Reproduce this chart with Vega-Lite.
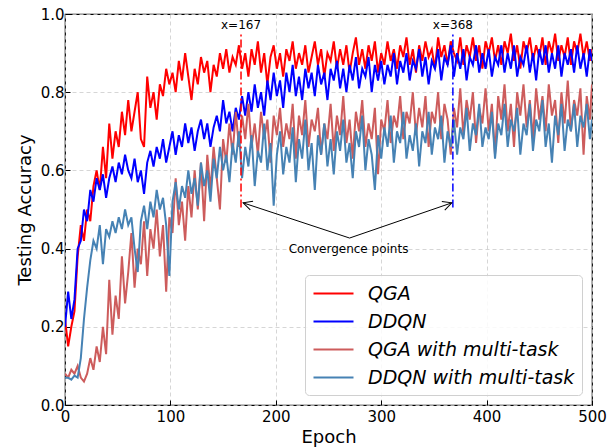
{
  "$schema": "https://vega.github.io/schema/vega-lite/v6.json",
  "width": 527,
  "height": 391,
  "autosize": {"type": "none"},
  "padding": {"left": 65, "top": 14, "right": 21, "bottom": 42},
  "background": "white",
  "config": {
    "font": "DejaVu Sans",
    "view": {"stroke": "black", "strokeWidth": 1.2},
    "axis": {
      "grid": true, "gridDash": [4, 3], "gridColor": "#cccccc", "gridWidth": 0.8,
      "domain": false, "ticks": true, "tickSize": -5, "tickColor": "black", "tickWidth": 1,
      "labelFont": "DejaVu Sans", "labelFontSize": 15, "labelColor": "black",
      "titleFont": "DejaVu Sans", "titleFontSize": 18, "titleFontWeight": "normal", "titleColor": "black",
      "labelFlush": false, "labelOverlap": false
    },
    "legend": {
      "orient": "none", "legendX": 240, "legendY": 261,
      "symbolType": "M -1 0 L 3 0", "symbolSize": 400, "symbolStrokeWidth": 2.2,
      "labelFont": "DejaVu Sans", "labelFontSize": 19, "labelFontStyle": "italic", "labelColor": "black",
      "labelOffset": 33, "padding": 7, "strokeColor": "#d0d0d0", "fillColor": "rgba(255,255,255,0.85)",
      "cornerRadius": 4, "rowPadding": 6, "labelLimit": 400
    }
  },
  "data": {"values": [
{"e":0,"q":0.22,"d":0.20,"qm":0.08,"dm":0.07},
{"e":3,"q":0.15,"d":0.29,"qm":0.07,"dm":0.07},
{"e":6,"q":0.20,"d":0.22,"qm":0.09,"dm":0.065},
{"e":9,"q":0.24,"d":0.27,"qm":0.08,"dm":0.075},
{"e":12,"q":0.38,"d":0.40,"qm":0.10,"dm":0.07},
{"e":15,"q":0.46,"d":0.42,"qm":0.07,"dm":0.12},
{"e":18,"q":0.42,"d":0.50,"qm":0.06,"dm":0.22},
{"e":21,"q":0.50,"d":0.47,"qm":0.08,"dm":0.30},
{"e":24,"q":0.47,"d":0.55,"qm":0.12,"dm":0.37},
{"e":27,"q":0.56,"d":0.52,"qm":0.09,"dm":0.42},
{"e":30,"q":0.60,"d":0.58,"qm":0.15,"dm":0.40},
{"e":33,"q":0.55,"d":0.55,"qm":0.11,"dm":0.46},
{"e":36,"q":0.66,"d":0.59,"qm":0.20,"dm":0.36},
{"e":39,"q":0.58,"d":0.53,"qm":0.13,"dm":0.45},
{"e":42,"q":0.72,"d":0.58,"qm":0.32,"dm":0.43},
{"e":45,"q":0.63,"d":0.61,"qm":0.18,"dm":0.47},
{"e":48,"q":0.70,"d":0.57,"qm":0.28,"dm":0.44},
{"e":51,"q":0.66,"d":0.62,"qm":0.22,"dm":0.48},
{"e":54,"q":0.75,"d":0.59,"qm":0.38,"dm":0.45},
{"e":57,"q":0.69,"d":0.64,"qm":0.26,"dm":0.50},
{"e":60,"q":0.78,"d":0.60,"qm":0.34,"dm":0.46},
{"e":63,"q":0.70,"d":0.58,"qm":0.44,"dm":0.48},
{"e":66,"q":0.75,"d":0.63,"qm":0.30,"dm":0.40},
{"e":69,"q":0.80,"d":0.57,"qm":0.40,"dm":0.34},
{"e":72,"q":0.68,"d":0.60,"qm":0.36,"dm":0.47},
{"e":75,"q":0.66,"d":0.54,"qm":0.47,"dm":0.51},
{"e":78,"q":0.84,"d":0.62,"qm":0.33,"dm":0.45},
{"e":81,"q":0.76,"d":0.65,"qm":0.45,"dm":0.52},
{"e":84,"q":0.80,"d":0.61,"qm":0.40,"dm":0.48},
{"e":87,"q":0.73,"d":0.66,"qm":0.50,"dm":0.55},
{"e":90,"q":0.82,"d":0.63,"qm":0.38,"dm":0.50},
{"e":93,"q":0.79,"d":0.68,"qm":0.46,"dm":0.53},
{"e":96,"q":0.86,"d":0.62,"qm":0.29,"dm":0.46},
{"e":99,"q":0.82,"d":0.66,"qm":0.48,"dm":0.33},
{"e":102,"q":0.85,"d":0.70,"qm":0.44,"dm":0.52},
{"e":105,"q":0.80,"d":0.64,"qm":0.58,"dm":0.57},
{"e":108,"q":0.88,"d":0.69,"qm":0.46,"dm":0.50},
{"e":111,"q":0.83,"d":0.66,"qm":0.52,"dm":0.56},
{"e":114,"q":0.90,"d":0.72,"qm":0.42,"dm":0.53},
{"e":117,"q":0.84,"d":0.67,"qm":0.56,"dm":0.60},
{"e":120,"q":0.78,"d":0.71,"qm":0.48,"dm":0.54},
{"e":123,"q":0.86,"d":0.65,"qm":0.60,"dm":0.58},
{"e":126,"q":0.82,"d":0.70,"qm":0.50,"dm":0.51},
{"e":129,"q":0.89,"d":0.73,"qm":0.62,"dm":0.62},
{"e":132,"q":0.85,"d":0.68,"qm":0.47,"dm":0.56},
{"e":135,"q":0.88,"d":0.72,"qm":0.64,"dm":0.60},
{"e":138,"q":0.80,"d":0.66,"qm":0.55,"dm":0.52},
{"e":141,"q":0.87,"d":0.71,"qm":0.66,"dm":0.63},
{"e":144,"q":0.84,"d":0.74,"qm":0.58,"dm":0.58},
{"e":147,"q":0.90,"d":0.70,"qm":0.50,"dm":0.66},
{"e":150,"q":0.86,"d":0.78,"qm":0.68,"dm":0.60},
{"e":153,"q":0.91,"d":0.72,"qm":0.62,"dm":0.64},
{"e":156,"q":0.85,"d":0.75,"qm":0.72,"dm":0.57},
{"e":159,"q":0.89,"d":0.70,"qm":0.64,"dm":0.67},
{"e":162,"q":0.87,"d":0.76,"qm":0.75,"dm":0.62},
{"e":165,"q":0.92,"d":0.73,"qm":0.66,"dm":0.70},
{"e":168,"q":0.86,"d":0.79,"qm":0.74,"dm":0.58},
{"e":171,"q":0.90,"d":0.74,"qm":0.68,"dm":0.66},
{"e":174,"q":0.84,"d":0.80,"qm":0.77,"dm":0.61},
{"e":177,"q":0.91,"d":0.75,"qm":0.66,"dm":0.69},
{"e":180,"q":0.87,"d":0.82,"qm":0.72,"dm":0.56},
{"e":183,"q":0.93,"d":0.76,"qm":0.64,"dm":0.65},
{"e":186,"q":0.85,"d":0.80,"qm":0.75,"dm":0.62},
{"e":189,"q":0.90,"d":0.74,"qm":0.68,"dm":0.72},
{"e":192,"q":0.82,"d":0.83,"qm":0.73,"dm":0.60},
{"e":195,"q":0.89,"d":0.78,"qm":0.62,"dm":0.67},
{"e":198,"q":0.92,"d":0.85,"qm":0.74,"dm":0.51},
{"e":201,"q":0.86,"d":0.79,"qm":0.69,"dm":0.64},
{"e":204,"q":0.90,"d":0.83,"qm":0.76,"dm":0.70},
{"e":207,"q":0.84,"d":0.76,"qm":0.66,"dm":0.59},
{"e":210,"q":0.91,"d":0.85,"qm":0.72,"dm":0.66},
{"e":213,"q":0.88,"d":0.80,"qm":0.68,"dm":0.62},
{"e":216,"q":0.93,"d":0.87,"qm":0.77,"dm":0.71},
{"e":219,"q":0.86,"d":0.79,"qm":0.63,"dm":0.57},
{"e":222,"q":0.90,"d":0.84,"qm":0.74,"dm":0.68},
{"e":225,"q":0.87,"d":0.78,"qm":0.69,"dm":0.63},
{"e":228,"q":0.92,"d":0.86,"qm":0.78,"dm":0.73},
{"e":231,"q":0.85,"d":0.81,"qm":0.66,"dm":0.60},
{"e":234,"q":0.89,"d":0.85,"qm":0.73,"dm":0.67},
{"e":237,"q":0.93,"d":0.79,"qm":0.70,"dm":0.55},
{"e":240,"q":0.87,"d":0.87,"qm":0.76,"dm":0.69},
{"e":243,"q":0.91,"d":0.82,"qm":0.64,"dm":0.64},
{"e":246,"q":0.84,"d":0.85,"qm":0.72,"dm":0.72},
{"e":249,"q":0.90,"d":0.78,"qm":0.68,"dm":0.61},
{"e":252,"q":0.88,"d":0.86,"qm":0.77,"dm":0.68},
{"e":255,"q":0.93,"d":0.83,"qm":0.65,"dm":0.59},
{"e":258,"q":0.86,"d":0.88,"qm":0.74,"dm":0.70},
{"e":261,"q":0.91,"d":0.81,"qm":0.69,"dm":0.65},
{"e":264,"q":0.87,"d":0.86,"qm":0.79,"dm":0.73},
{"e":267,"q":0.92,"d":0.80,"qm":0.67,"dm":0.62},
{"e":270,"q":0.85,"d":0.87,"qm":0.73,"dm":0.67},
{"e":273,"q":0.90,"d":0.83,"qm":0.63,"dm":0.58},
{"e":276,"q":0.94,"d":0.89,"qm":0.75,"dm":0.70},
{"e":279,"q":0.87,"d":0.81,"qm":0.70,"dm":0.66},
{"e":282,"q":0.91,"d":0.86,"qm":0.78,"dm":0.74},
{"e":285,"q":0.86,"d":0.84,"qm":0.66,"dm":0.60},
{"e":288,"q":0.92,"d":0.89,"qm":0.72,"dm":0.68},
{"e":291,"q":0.88,"d":0.80,"qm":0.68,"dm":0.64},
{"e":294,"q":0.93,"d":0.87,"qm":0.76,"dm":0.55},
{"e":297,"q":0.85,"d":0.83,"qm":0.59,"dm":0.69},
{"e":300,"q":0.90,"d":0.88,"qm":0.73,"dm":0.63},
{"e":303,"q":0.87,"d":0.82,"qm":0.70,"dm":0.71},
{"e":306,"q":0.93,"d":0.87,"qm":0.78,"dm":0.66},
{"e":309,"q":0.88,"d":0.84,"qm":0.67,"dm":0.74},
{"e":312,"q":0.91,"d":0.90,"qm":0.74,"dm":0.62},
{"e":315,"q":0.86,"d":0.82,"qm":0.71,"dm":0.70},
{"e":318,"q":0.92,"d":0.88,"qm":0.79,"dm":0.67},
{"e":321,"q":0.89,"d":0.85,"qm":0.68,"dm":0.75},
{"e":324,"q":0.94,"d":0.90,"qm":0.75,"dm":0.63},
{"e":327,"q":0.87,"d":0.83,"qm":0.72,"dm":0.69},
{"e":330,"q":0.91,"d":0.88,"qm":0.80,"dm":0.65},
{"e":333,"q":0.85,"d":0.86,"qm":0.69,"dm":0.72},
{"e":336,"q":0.92,"d":0.91,"qm":0.76,"dm":0.61},
{"e":339,"q":0.88,"d":0.84,"qm":0.71,"dm":0.70},
{"e":342,"q":0.93,"d":0.89,"qm":0.79,"dm":0.67},
{"e":345,"q":0.89,"d":0.82,"qm":0.66,"dm":0.75},
{"e":348,"q":0.91,"d":0.88,"qm":0.75,"dm":0.64},
{"e":351,"q":0.86,"d":0.86,"qm":0.72,"dm":0.71},
{"e":354,"q":0.94,"d":0.91,"qm":0.80,"dm":0.68},
{"e":357,"q":0.89,"d":0.83,"qm":0.68,"dm":0.74},
{"e":360,"q":0.92,"d":0.89,"qm":0.77,"dm":0.62},
{"e":363,"q":0.87,"d":0.87,"qm":0.73,"dm":0.70},
{"e":366,"q":0.93,"d":0.92,"qm":0.64,"dm":0.66},
{"e":369,"q":0.90,"d":0.84,"qm":0.76,"dm":0.73},
{"e":372,"q":0.88,"d":0.90,"qm":0.71,"dm":0.64},
{"e":375,"q":0.94,"d":0.86,"qm":0.81,"dm":0.71},
{"e":378,"q":0.87,"d":0.91,"qm":0.69,"dm":0.68},
{"e":381,"q":0.92,"d":0.83,"qm":0.78,"dm":0.76},
{"e":384,"q":0.89,"d":0.89,"qm":0.73,"dm":0.65},
{"e":387,"q":0.94,"d":0.87,"qm":0.80,"dm":0.72},
{"e":390,"q":0.88,"d":0.92,"qm":0.67,"dm":0.69},
{"e":393,"q":0.92,"d":0.85,"qm":0.76,"dm":0.77},
{"e":396,"q":0.86,"d":0.90,"qm":0.72,"dm":0.66},
{"e":399,"q":0.93,"d":0.86,"qm":0.81,"dm":0.71},
{"e":402,"q":0.90,"d":0.91,"qm":0.70,"dm":0.68},
{"e":405,"q":0.94,"d":0.84,"qm":0.77,"dm":0.75},
{"e":408,"q":0.88,"d":0.89,"qm":0.64,"dm":0.63},
{"e":411,"q":0.92,"d":0.87,"qm":0.79,"dm":0.72},
{"e":414,"q":0.87,"d":0.92,"qm":0.73,"dm":0.69},
{"e":417,"q":0.93,"d":0.85,"qm":0.82,"dm":0.77},
{"e":420,"q":0.90,"d":0.90,"qm":0.70,"dm":0.66},
{"e":423,"q":0.95,"d":0.86,"qm":0.77,"dm":0.73},
{"e":426,"q":0.88,"d":0.92,"qm":0.66,"dm":0.70},
{"e":429,"q":0.92,"d":0.84,"qm":0.80,"dm":0.76},
{"e":432,"q":0.86,"d":0.89,"qm":0.74,"dm":0.64},
{"e":435,"q":0.93,"d":0.87,"qm":0.82,"dm":0.72},
{"e":438,"q":0.90,"d":0.92,"qm":0.71,"dm":0.69},
{"e":441,"q":0.94,"d":0.85,"qm":0.78,"dm":0.77},
{"e":444,"q":0.88,"d":0.90,"qm":0.68,"dm":0.65},
{"e":447,"q":0.92,"d":0.83,"qm":0.81,"dm":0.73},
{"e":450,"q":0.89,"d":0.91,"qm":0.73,"dm":0.70},
{"e":453,"q":0.94,"d":0.87,"qm":0.79,"dm":0.78},
{"e":456,"q":0.87,"d":0.92,"qm":0.70,"dm":0.66},
{"e":459,"q":0.93,"d":0.85,"qm":0.82,"dm":0.72},
{"e":462,"q":0.90,"d":0.90,"qm":0.74,"dm":0.62},
{"e":465,"q":0.95,"d":0.86,"qm":0.78,"dm":0.74},
{"e":468,"q":0.88,"d":0.92,"qm":0.67,"dm":0.69},
{"e":471,"q":0.92,"d":0.84,"qm":0.80,"dm":0.77},
{"e":474,"q":0.89,"d":0.90,"qm":0.72,"dm":0.65},
{"e":477,"q":0.94,"d":0.87,"qm":0.83,"dm":0.73},
{"e":480,"q":0.87,"d":0.91,"qm":0.70,"dm":0.70},
{"e":483,"q":0.93,"d":0.85,"qm":0.78,"dm":0.77},
{"e":486,"q":0.90,"d":0.92,"qm":0.74,"dm":0.66},
{"e":489,"q":0.95,"d":0.86,"qm":0.81,"dm":0.74},
{"e":492,"q":0.89,"d":0.90,"qm":0.64,"dm":0.71},
{"e":495,"q":0.93,"d":0.84,"qm":0.79,"dm":0.77},
{"e":498,"q":0.88,"d":0.91,"qm":0.73,"dm":0.68},
{"e":500,"q":0.91,"d":0.88,"qm":0.82,"dm":0.73}
  ]},
  "layer": [
    {
      "mark": {"type": "line", "strokeWidth": 2, "clip": true},
      "encoding": {
        "x": {"field": "e", "type": "quantitative", "scale": {"domain": [0, 500]},
              "axis": {"values": [0, 100, 200, 300, 400, 500], "title": "Epoch", "labelPadding": 9, "titlePadding": 4}},
        "y": {"field": "q", "type": "quantitative", "scale": {"domain": [0, 1]},
              "axis": {"values": [0, 0.2, 0.4, 0.6, 0.8, 1.0], "format": ".1f", "title": "Testing Accuracy", "labelPadding": 6, "titlePadding": 6}},
        "color": {"datum": "QGA", "type": "nominal",
                  "scale": {"domain": ["QGA", "DDQN", "QGA with multi-task", "DDQN with multi-task"],
                            "range": ["#ff0000", "#0000ff", "#cd5c5c", "#4682b4"]},
                  "legend": {"title": null}}
      }
    },
    {
      "mark": {"type": "line", "strokeWidth": 2, "clip": true},
      "encoding": {
        "x": {"field": "e", "type": "quantitative"},
        "y": {"field": "d", "type": "quantitative"},
        "color": {"datum": "DDQN", "type": "nominal"}
      }
    },
    {
      "mark": {"type": "line", "strokeWidth": 2, "clip": true},
      "encoding": {
        "x": {"field": "e", "type": "quantitative"},
        "y": {"field": "qm", "type": "quantitative"},
        "color": {"datum": "QGA with multi-task", "type": "nominal"}
      }
    },
    {
      "mark": {"type": "line", "strokeWidth": 2, "clip": true},
      "encoding": {
        "x": {"field": "e", "type": "quantitative"},
        "y": {"field": "dm", "type": "quantitative"},
        "color": {"datum": "DDQN with multi-task", "type": "nominal"}
      }
    },
    {
      "data": {"values": [{"x": 167, "lo": 0.505, "hi": 0.952}]},
      "mark": {"type": "rule", "color": "#ff0000", "strokeWidth": 1.5, "strokeDash": [8, 3, 2, 3]},
      "encoding": {
        "x": {"field": "x", "type": "quantitative"},
        "y": {"field": "lo", "type": "quantitative"},
        "y2": {"field": "hi"}
      }
    },
    {
      "data": {"values": [{"x": 368, "lo": 0.505, "hi": 0.952}]},
      "mark": {"type": "rule", "color": "#0000ff", "strokeWidth": 1.5, "strokeDash": [8, 3, 2, 3]},
      "encoding": {
        "x": {"field": "x", "type": "quantitative"},
        "y": {"field": "lo", "type": "quantitative"},
        "y2": {"field": "hi"}
      }
    },
    {
      "data": {"values": [{"x": 167, "y": 0.972, "t": "x=167"}, {"x": 368, "y": 0.972, "t": "x=368"}]},
      "mark": {"type": "text", "fontSize": 12, "color": "black", "align": "center", "baseline": "middle"},
      "encoding": {
        "x": {"field": "x", "type": "quantitative"},
        "y": {"field": "y", "type": "quantitative"},
        "text": {"field": "t"}
      }
    },
    {
      "data": {"values": [{"x": 270, "y": 0.427, "x2": 169, "y2": 0.517}, {"x": 270, "y": 0.427, "x2": 367, "y2": 0.517}]},
      "mark": {"type": "rule", "color": "black", "strokeWidth": 1},
      "encoding": {
        "x": {"field": "x", "type": "quantitative"},
        "y": {"field": "y", "type": "quantitative"},
        "x2": {"field": "x2"},
        "y2": {"field": "y2"}
      }
    },
    {
      "data": {"values": [{"x": 169, "y": 0.517}]},
      "mark": {"type": "point", "shape": "M -1 -0.5 L 0 0 L -1 0.5", "filled": false, "stroke": "black", "strokeWidth": 1, "size": 324, "angle": 198, "opacity": 1},
      "encoding": {
        "x": {"field": "x", "type": "quantitative"},
        "y": {"field": "y", "type": "quantitative"}
      }
    },
    {
      "data": {"values": [{"x": 367, "y": 0.517}]},
      "mark": {"type": "point", "shape": "M -1 -0.5 L 0 0 L -1 0.5", "filled": false, "stroke": "black", "strokeWidth": 1, "size": 324, "angle": -19, "opacity": 1},
      "encoding": {
        "x": {"field": "x", "type": "quantitative"},
        "y": {"field": "y", "type": "quantitative"}
      }
    },
    {
      "data": {"values": [{"x": 269, "y": 0.40, "t": "Convergence points"}]},
      "mark": {"type": "text", "fontSize": 12, "color": "black", "align": "center", "baseline": "middle"},
      "encoding": {
        "x": {"field": "x", "type": "quantitative"},
        "y": {"field": "y", "type": "quantitative"},
        "text": {"field": "t"}
      }
    }
  ]
}
